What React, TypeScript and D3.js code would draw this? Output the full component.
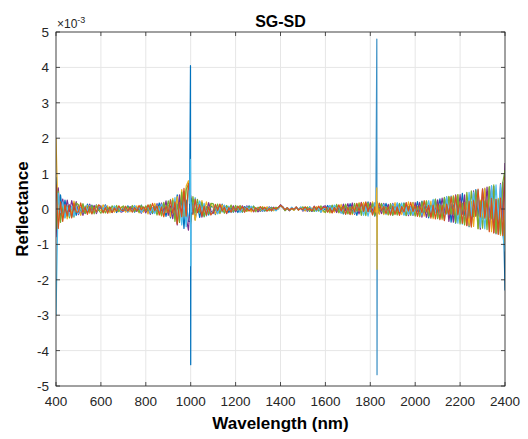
import React from "react";
import * as d3 from "d3";

// wavelength grid of the band series (nm)
const wavelengths = d3.range(400, 2401, 10);

// SG-SD reflectance, in units of 1e-5 (axis is x1e-3)
const blueVals = [
  90, -45, 40, -14, 25, -10, 12, -22, 8, -18,
  9, -15, 6, -12, 14, -5, 11, -7, 12, -4,
  5, -9, 12, -3, 6, -9, 4, -10, 3, -7,
  4, -7, 9, -3, 5, -9, 3, -5, 11, -4,
  6, -11, 5, -13, 8, -7, 17, -6, 9, -21,
  10, -25, 12, -18, 40, -15, 30, -55, 25, -35,
  -35, 20, -30, 12, -24, 8, -20, 6, -17, 7,
  6, -16, 5, -12, 14, -4, 7, -10, 5, -9,
  3, -10, 4, -9, 7, -3, 9, -4, 8, -3,
  3, -7, 2, -6, 5, -2, 5, -3, 2, 3,
  11, 6, -2, 3, -4, 1, -3, 4, -2, 3,
  -3, 5, -2, 6, -7, 3, -6, 2, -9, 4,
  -4, 10, -3, 9, -5, 11, -6, 5, -14, 6,
  -6, 15, -7, 5, -18, 7, -9, 17, -5, 20,
  -8, 18, -20, 7, -6, 15, -5, 16, -7, 6,
  -17, 6, -8, 15, -7, 17, -18, 6, -9, 18,
  -7, 21, -9, 22, -10, 8, -25, 11, -9, 27,
  -12, 29, -10, 30, -14, 33, -37, 12, -40, 15,
  -16, 44, -18, 20, -50, 17, -22, 55, -20, 24,
  -25, 57, -22, 60, -28, 64, -70, 26, -73, 75,
  -230,
];
const orangeVals = [
  70, -55, 20, -35, 12, -20, 10, -25, 16, -9,
  -8, 17, -10, 6, -15, 7, -14, 5, -9, 12,
  6, -11, 4, -12, 5, -10, 3, -6, 9, -3,
  -4, 8, -6, 3, -9, 4, -5, 10, -3, 6,
  -6, 12, -4, 16, -5, 9, -17, 6, -22, 8,
  -10, 26, -12, 20, -42, 18, -22, 58, -20, 72,
  30, -15, 28, -10, 12, -20, 8, -18, 6, -17,
  -7, 13, -4, 14, -6, 5, -12, 4, -9, 5,
  -4, 8, -3, 7, -9, 3, -6, 2, -7, 4,
  -3, 7, -2, 5, -6, 2, -5, 3, -1, 4,
  10, 5, -2, 4, -3, 2, -1, 5, -3, 2,
  -2, 6, -3, 2, -5, 7, -3, 8, -2, 4,
  5, -9, 3, -11, 4, -5, 12, -6, 7, -15,
  5, -16, 7, -8, 16, -6, 17, -7, 20, -8,
  9, -17, 6, -22, 17, -5, 7, -13, 6, -17,
  8, -16, 5, -18, 7, -8, 18, -6, 19, -7,
  9, -21, 8, -10, 24, -9, 11, -26, 10, -28,
  13, -30, 11, -33, 14, -16, 35, -15, 37, -17,
  20, -41, 18, -47, 22, -51, 24, -20, 56, -22,
  56, -26, 25, -64, 30, -68, 27, -72, 31, -75,
  90,
];
const yellowVals = [
  200, -40, 15, -25, 8, -28, 6, -16, 22, -7,
  6, -18, 13, -5, 10, -12, 4, -9, 11, -3,
  -4, 12, -3, 9, -11, 2, -9, 4, -8, 6,
  3, -9, 2, -8, 6, -3, 9, -11, 4, -9,
  4, -14, 11, -5, 16, -4, 8, -20, 7, -10,
  8, -22, 30, -12, 35, -20, 55, -18, 65, 80,
  -40, 12, -32, 10, -8, 24, -7, 20, -5, 14,
  5, -14, 3, -13, 12, -4, 9, -3, 10, -4,
  7, -2, 10, -4, 3, -7, 2, -8, 6, -2,
  2, -5, 7, -1, 6, -2, 3, -5, 4, 1,
  9, 4, -1, 4, -3, 1, -4, 3, -1, 5,
  2, -6, 6, -2, 3, -6, 7, -3, 6, -8,
  -8, 4, -11, 3, -9, 5, -11, 13, -5, 12,
  -13, 5, -16, 6, -5, 18, -6, 19, -7, 16,
  -6, 20, -8, 18, -15, 6, -16, 5, -17, 14,
  -6, 18, -14, 7, -16, 6, -15, 20, -8, 19,
  -17, 8, -22, 9, -20, 24, -10, 22, -27, 10,
  -25, 11, -30, 13, -12, 34, -14, 38, -15, 40,
  -38, 17, -45, 19, -48, 21, -49, 23, -55, 25,
  -24, 59, -26, 62, -64, 28, -68, 30, -74, 72,
  -100,
];
const purpleVals = [
  -80, 60, -20, 28, -10, 25, -8, 24, -6, 21,
  -16, 5, -18, 4, -11, 14, -6, 10, -13, 3,
  9, -4, 10, -7, 3, -10, 6, -2, 7, -9,
  -6, 3, -8, 7, -2, 9, -7, 3, -12, 4,
  -11, 5, -15, 4, -7, 15, -6, 17, -8, 23,
  -18, 9, -27, 11, -45, 40, -20, 50, -25, -60,
  38, -10, 25, -8, 21, -23, 7, -16, 18, -5,
  -13, 5, -12, 11, -4, 10, -13, 3, -8, 9,
  -8, 3, -7, 9, -2, 9, -3, 6, -8, 2,
  -8, 2, -7, 3, -5, 6, -2, 5, -4, 3,
  12, 6, -4, 1, -5, 4, -1, 6, -2, 4,
  -6, 2, -7, 3, -6, 8, -2, 6, -3, 7,
  9, -3, 9, -10, 4, -10, 5, -11, 14, -5,
  15, -5, 17, -15, 6, -14, 19, -6, 17, -7,
  18, -7, 16, -19, 6, -13, 16, -5, 13, -16,
  16, -7, 15, -16, 6, -15, 17, -19, 6, -18,
  18, -7, 19, -23, 8, -24, 9, -21, 24, -9,
  26, -10, 31, -12, 34, -35, 13, -37, 40, -14,
  41, -15, 40, -46, 18, -47, 51, -19, 52, -57,
  57, -21, 62, -24, 65, -66, 27, -69, 72, -30,
  130,
];
const greenVals = [
  -60, 50, -38, 12, -24, 9, -25, 7, -23, 17,
  12, -4, 15, -13, 6, -9, 10, -14, 8, -3,
  -12, 3, -11, 4, -6, 9, -3, 10, -7, 3,
  9, -2, 7, -3, 10, -7, 3, -9, 10, -4,
  9, -4, 13, -11, 5, -17, 6, -18, 19, -7,
  23, -8, 25, -35, 14, -38, 48, -20, 55, 70,
  -30, 35, -10, 27, -9, 18, -22, 6, -14, 16,
  15, -4, 14, -10, 3, -12, 10, -3, 11, -8,
  10, -3, 9, -8, 2, -6, 7, -2, 8, -8,
  5, -2, 5, -5, 2, -5, 4, -2, 5, 0,
  10, 5, -5, 2, -4, 3, -2, 5, -3, 2,
  6, -2, 5, -7, 2, -7, 3, -6, 9, -3,
  -10, 3, -9, 11, -4, 13, -10, 4, -12, 14,
  -14, 6, -13, 16, -6, 15, -18, 7, -19, 17,
  -7, 15, -19, 21, -6, 16, -12, 5, -16, 15,
  -18, 6, -17, 16, -5, 16, -19, 7, -18, 6,
  -20, 7, -21, 20, -9, 22, -21, 10, -23, 28,
  -27, 11, -26, 33, -12, 36, -14, 35, -38, 41,
  -42, 16, -44, 47, -19, 51, -20, 52, -56, 21,
  -54, 22, -58, 63, -25, 68, -67, 26, -70, 74,
  110,
];
const lightBlueVals = [
  -300, 45, -10, 20, -26, 6, -20, 8, -21, 6,
  -13, 4, -11, 9, -5, 10, -13, 4, -10, 9,
  8, -3, 9, -11, 2, -6, 9, -3, 6, -7,
  -3, 7, -9, 2, -7, 10, -3, 7, -10, 3,
  -5, 10, -12, 4, -13, 12, -5, 14, -18, 6,
  -8, 27, -10, 32, -36, 15, -45, 20, -50, 60,
  25, -12, 32, -8, 23, -7, 16, -20, 5, -15,
  -4, 12, -14, 5, -9, 11, -3, 8, -10, 4,
  -3, 8, -10, 2, -8, 7, -2, 8, -5, 2,
  -2, 5, -6, 2, -4, 5, -6, 1, -5, 2,
  9, 3, -1, 4, -2, 5, -1, 4, -2, 6,
  -4, 2, -5, 6, -2, 5, -7, 3, -8, 2,
  3, -8, 10, -3, 11, -4, 9, -12, 5, -14,
  5, -15, 6, -13, 15, -6, 14, -18, 6, -20,
  6, -16, 18, -7, 16, -6, 13, -16, 5, -13,
  14, -6, 18, -7, 17, -18, 6, -16, 7, -17,
  7, -19, 8, -18, 21, -9, 24, -10, 27, -11,
  10, -27, 12, -32, 35, -13, 37, -15, 36, -40,
  15, -43, 17, -40, 47, -18, 48, -20, 54, -52,
  21, -56, 24, -59, 66, -26, 68, -29, 69, -73,
  -120,
];

// narrow spikes (nm, 1e-5 units)
const spikeAWl = [995, 999, 1000, 1001, 1005];
const spikeAVals = [-20, 405, -440, 30, -15];
const spikeA2Vals = [15, 140, -160, 20, -10];
const spikeBWl = [1825, 1829, 1830, 1831, 1835];
const spikeBVals = [15, 480, -468, -20, 10];
const spikeB2Vals = [-10, 60, -170, 15, -10];

const xTicks = [400, 600, 800, 1000, 1200, 1400, 1600, 1800, 2000, 2200, 2400];
const yTicks = [-5, -4, -3, -2, -1, 0, 1, 2, 3, 4, 5];

const W = 528;
const H = 439;
const m = { left: 56, right: 23, top: 32, bottom: 53 };

export default function App() {
  const x = d3.scaleLinear().domain([400, 2400]).range([m.left, W - m.right]);
  const y = d3.scaleLinear().domain([-5, 5]).range([H - m.bottom, m.top]);

  const mk = (wl: number[], vals: number[]) =>
    d3
      .line<number>()
      .x((_, i) => x(wl[i]))
      .y((v) => y(v / 100))(vals) || "";

  const band = [
    { color: "#0072BD", v: blueVals },
    { color: "#EDB120", v: yellowVals },
    { color: "#7E2F8E", v: purpleVals },
    { color: "#77AC30", v: greenVals },
    { color: "#4DBEEE", v: lightBlueVals },
    { color: "#D95319", v: orangeVals },
  ];
  const spikes = [
    { color: "#0072BD", wl: spikeAWl, v: spikeAVals },
    { color: "#4DBEEE", wl: spikeAWl, v: spikeA2Vals },
    { color: "#3a8fc4", wl: spikeBWl, v: spikeBVals },
    { color: "#EDB120", wl: spikeBWl, v: spikeB2Vals },
  ];

  const x0 = m.left, x1 = W - m.right, y0 = H - m.bottom, y1 = m.top;
  const tl = 4;
  const ink = "#262626";

  return (
    <svg
      width={W}
      height={H}
      style={{ position: "absolute", left: 0, top: 0, background: "#fff" }}
      fontFamily="Liberation Sans, Arial, sans-serif"
    >
      <defs>
        <clipPath id="plot">
          <rect x={x0} y={y1} width={x1 - x0} height={y0 - y1} />
        </clipPath>
      </defs>
      {/* grid */}
      {xTicks.map((t) => (
        <line key={"gx" + t} x1={x(t)} x2={x(t)} y1={y1} y2={y0} stroke="#e6e6e6" />
      ))}
      {yTicks.map((t) => (
        <line key={"gy" + t} x1={x0} x2={x1} y1={y(t)} y2={y(t)} stroke="#e6e6e6" />
      ))}
      <g clipPath="url(#plot)" fill="none" strokeWidth={1.2} strokeLinejoin="round">
        {band.map((s, i) => (
          <path key={"b" + i} d={mk(wavelengths, s.v)} stroke={s.color} />
        ))}
        {spikes.map((s, i) => (
          <path key={"s" + i} d={mk(s.wl, s.v)} stroke={s.color} />
        ))}
      </g>
      {/* box and inward ticks */}
      <rect x={x0} y={y1} width={x1 - x0} height={y0 - y1} fill="none" stroke={ink} strokeWidth={0.8} />
      {xTicks.map((t) => (
        <g key={"tx" + t} stroke={ink} strokeWidth={0.8}>
          <line x1={x(t)} x2={x(t)} y1={y0} y2={y0 - tl} />
          <line x1={x(t)} x2={x(t)} y1={y1} y2={y1 + tl} />
        </g>
      ))}
      {yTicks.map((t) => (
        <g key={"ty" + t} stroke={ink} strokeWidth={0.8}>
          <line x1={x0} x2={x0 + tl} y1={y(t)} y2={y(t)} />
          <line x1={x1} x2={x1 - tl} y1={y(t)} y2={y(t)} />
        </g>
      ))}
      {xTicks.map((t) => (
        <text key={"lx" + t} x={x(t)} y={y0 + 20} textAnchor="middle" fontSize={13.5} fill={ink}>
          {t}
        </text>
      ))}
      {yTicks.map((t) => (
        <text key={"ly" + t} x={x0 - 7} y={y(t) + 5} textAnchor="end" fontSize={13.5} fill={ink}>
          {t}
        </text>
      ))}
      <text x={x0 + 1} y={28} fontSize={12} fill={ink}>
        ×10
        <tspan fontSize={9} dy={-5}>-3</tspan>
      </text>
      <text x={(x0 + x1) / 2} y={27} textAnchor="middle" fontSize={16} fontWeight="bold" fill="#000">
        SG-SD
      </text>
      <text x={(x0 + x1) / 2} y={429} textAnchor="middle" fontSize={17} fontWeight="bold" fill="#000">
        Wavelength (nm)
      </text>
      <text
        transform={`translate(28, ${(y0 + y1) / 2}) rotate(-90)`}
        textAnchor="middle"
        fontSize={17}
        fontWeight="bold"
        fill="#000"
      >
        Reflectance
      </text>
    </svg>
  );
}
